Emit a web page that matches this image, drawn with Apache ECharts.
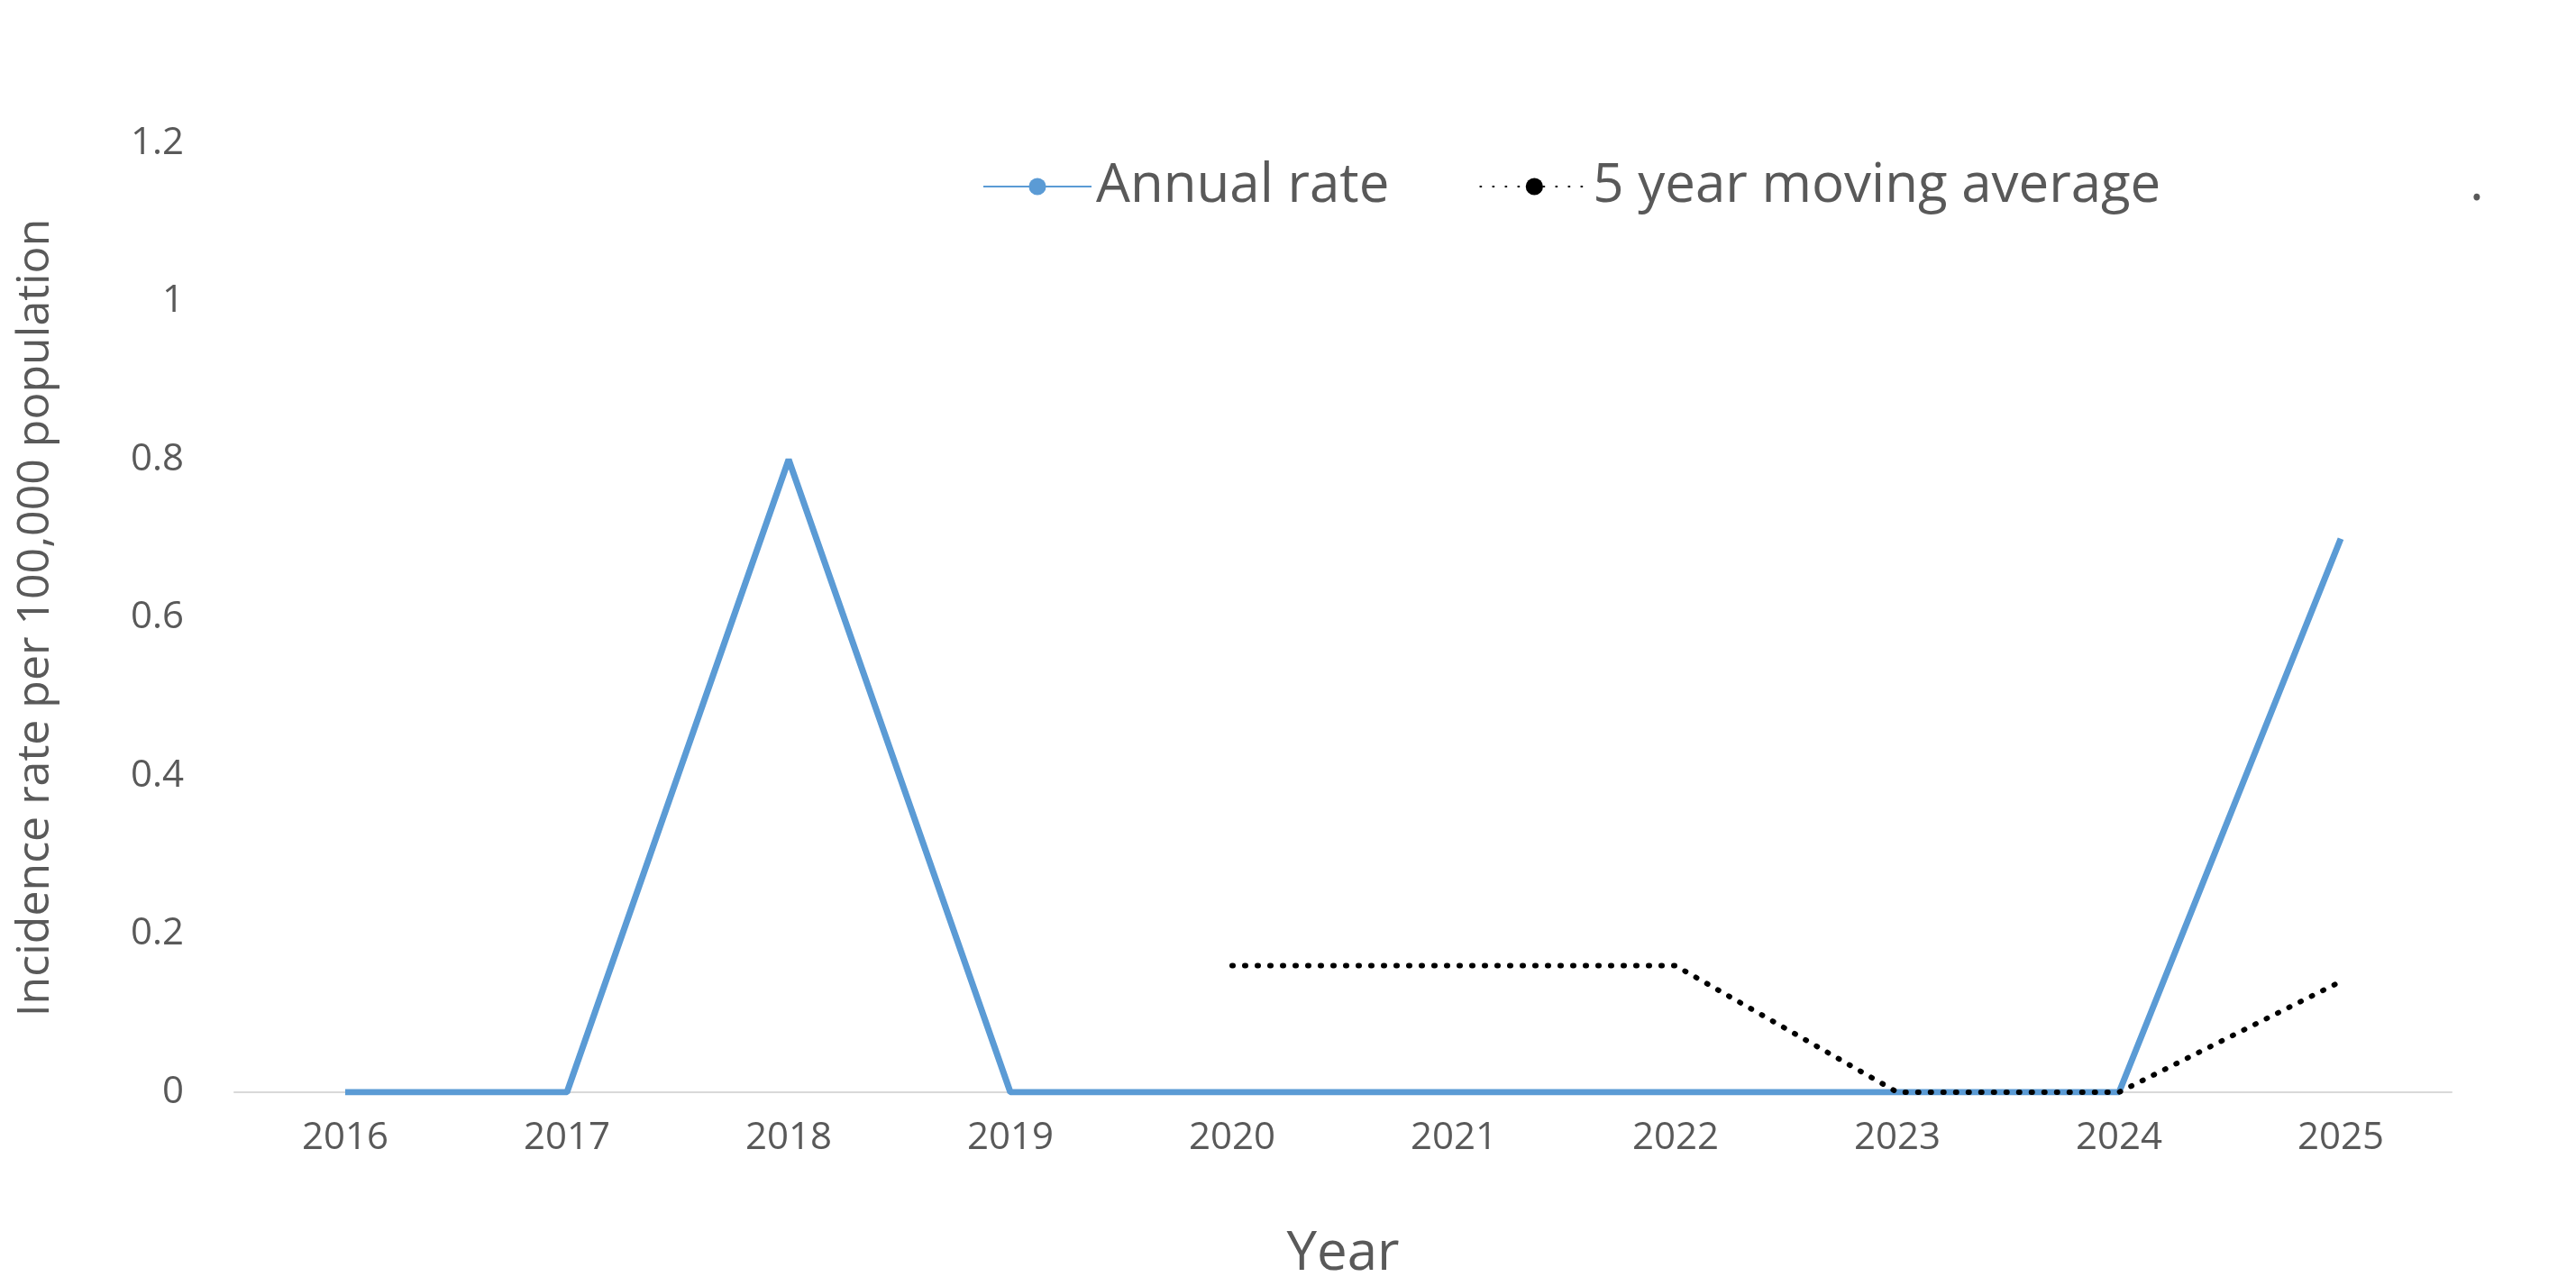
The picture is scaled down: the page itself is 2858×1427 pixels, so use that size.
<!DOCTYPE html>
<html><head><meta charset="utf-8">
<script src="https://cdn.jsdelivr.net/npm/echarts@6/dist/echarts.min.js"></script>
<style>html,body{margin:0;padding:0;background:#fff}#c{width:2858px;height:1427px}</style>
</head><body><div id="c"></div>
<script>
const categories = ['2016','2017','2018','2019','2020','2021','2022','2023','2024','2025'];
const annualRate = [0,0,0.8,0,0,0,0,0,0,0.7];
const movingAvg = [null,null,null,null,0.16,0.16,0.16,0,0,0.14];
const yTicks = [0,0.2,0.4,0.6,0.8,1,1.2];
const font = 'Open Sans';
const chart = echarts.init(document.getElementById('c'));
chart.setOption({
  animation:false,
  textStyle:{fontFamily:font},
  grid:{left:260,right:138,top:159,bottom:205},
  legend:{left:1085,top:172,orient:'horizontal',itemWidth:120,itemHeight:24,itemGap:100,
    textStyle:{fontSize:60,color:'#595959',fontFamily:font},
    data:['Annual rate','5 year moving average']},
  graphic:[{type:'text',left:2740,top:175,style:{text:'.',fontSize:60,fill:'#595959',fontFamily:font}}],
  xAxis:{type:'category',data:categories,boundaryGap:true,
    name:'Year',nameLocation:'middle',nameGap:150,
    nameTextStyle:{fontSize:60,color:'#595959'},
    axisLine:{lineStyle:{color:'#d9d9d9',width:2}},axisTick:{show:false},
    axisLabel:{fontSize:42,color:'#595959',margin:30}},
  yAxis:{type:'value',min:0,max:1.2,interval:0.2,
    name:'Incidence rate per 100,000 population',nameLocation:'middle',nameGap:195,
    nameTextStyle:{fontSize:50,color:'#595959'},
    splitLine:{show:false},axisLine:{show:false},axisTick:{show:false},
    axisLabel:{fontSize:42,color:'#595959',margin:56,formatter:v=>String(+(+v).toFixed(1))}},
  series:[
    {name:'Annual rate',type:'line',data:annualRate,symbol:'none',
      lineStyle:{color:'#5b9bd5',width:7},itemStyle:{color:'#5b9bd5'}},
    {name:'5 year moving average',type:'line',data:movingAvg,symbol:'none',
      lineStyle:{color:'#000',width:6,type:[1,13],cap:'round'},itemStyle:{color:'#000'}}
  ]
});
</script></body></html>
